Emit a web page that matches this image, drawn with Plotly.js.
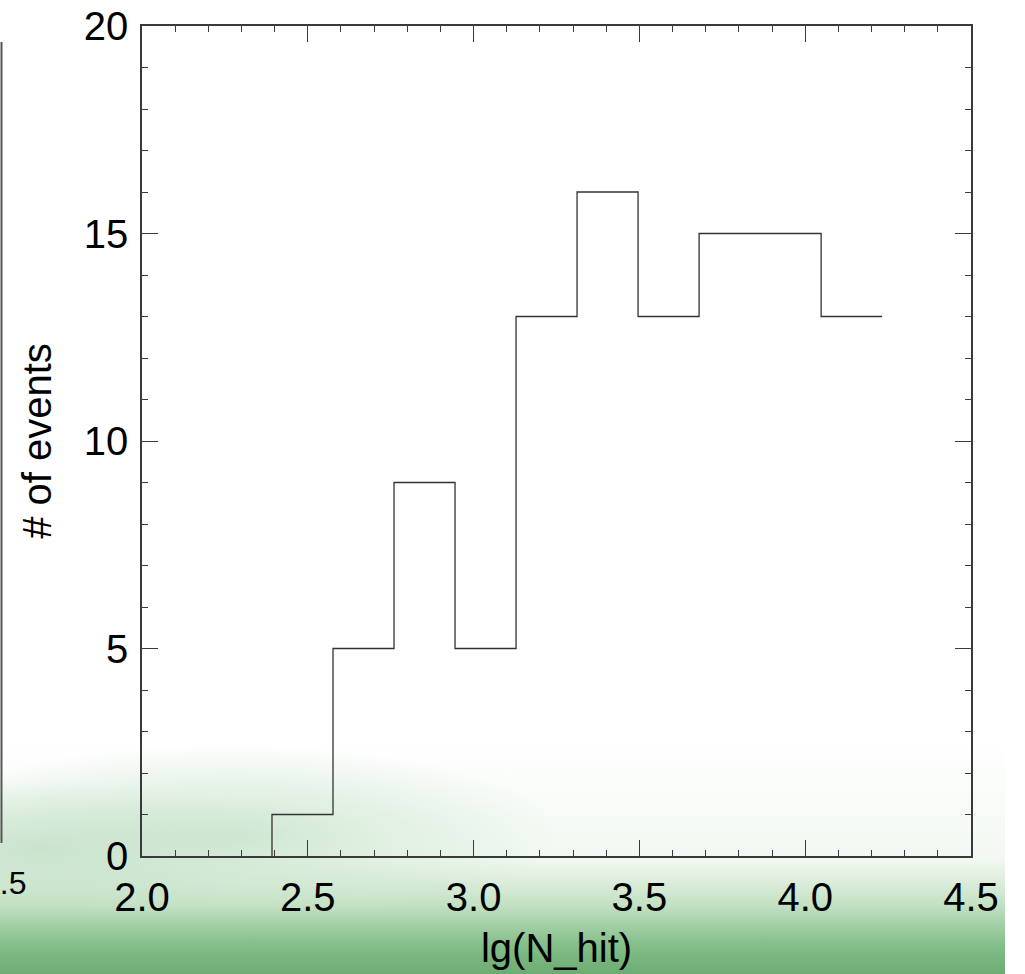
<!DOCTYPE html>
<html>
<head>
<meta charset="utf-8">
<script src="https://cdn.plot.ly/plotly-3.0.1.min.js"></script>
<style>
  html, body { margin: 0; padding: 0; background: #ffffff; }
  #wrap { position: relative; width: 1025px; height: 974px; overflow: hidden; }
  #bg {
    position: absolute; left: 0; top: 740px; width: 1005px; height: 234px;
    background:
      radial-gradient(ellipse 330px 90px at 230px 95px, rgba(200,228,204,0.85), rgba(200,228,204,0) 100%),
      radial-gradient(ellipse 260px 70px at 40px 110px, rgba(190,222,195,0.8), rgba(190,222,195,0) 100%),
      linear-gradient(to bottom, rgba(255,255,255,0) 0px, rgba(215,236,215,0.35) 120px, rgba(175,215,175,0.75) 165px, rgba(125,187,130,0.95) 205px, rgba(108,172,114,1) 234px);
  }
  #chart { position: absolute; left: 0; top: 0; width: 1025px; height: 974px; }
</style>
</head>
<body>
<div id="wrap">
  <div id="bg"></div>
  <div id="chart"></div>
</div>
<script>
// Histogram of lg(N_hit): bin edges and counts per bin
const binEdges = [2.392, 2.576, 2.760, 2.944, 3.128, 3.312, 3.496, 3.680, 3.864, 4.048, 4.232];
const counts   = [1, 5, 9, 5, 13, 16, 13, 15, 15, 13];

const xTickVals = [2.0, 2.5, 3.0, 3.5, 4.0, 4.5];
const xTickText = ['2.0', '2.5', '3.0', '3.5', '4.0', '4.5'];
const yTickVals = [0, 5, 10, 15, 20];
const yTickText = ['0', '5', '10', '15', '20'];

// step outline: rise from zero at the first edge, hold each count over its bin
const stepX = [binEdges[0]].concat(binEdges);
const stepY = [0].concat(counts, [counts[counts.length - 1]]);

const FONT = 'Liberation Sans, Arial, Helvetica, sans-serif';
const AX = '#3a3a3a';

const trace = {
  x: stepX,
  y: stepY,
  type: 'scatter',
  mode: 'lines',
  line: { shape: 'hv', color: '#333333', width: 1.3 },
  hoverinfo: 'x+y',
  showlegend: false
};

const layout = {
  width: 1025,
  height: 974,
  margin: { l: 142, r: 54, t: 26, b: 118, pad: 0 },
  paper_bgcolor: 'rgba(0,0,0,0)',
  plot_bgcolor: 'rgba(0,0,0,0)',
  font: { family: FONT, size: 40, color: '#000' },
  showlegend: false,
  xaxis: {
    range: [2.0, 4.5],
    tickmode: 'array',
    tickvals: xTickVals,
    ticktext: xTickText,
    ticks: 'inside',
    ticklen: 16,
    tickwidth: 1.3,
    tickcolor: AX,
    minor: { dtick: 0.1, tick0: 2.0, ticks: 'inside', ticklen: 6, tickwidth: 1.3, tickcolor: AX, showgrid: false },
    showline: true,
    linecolor: AX,
    linewidth: 1.5,
    mirror: 'allticks',
    showgrid: false,
    zeroline: false,
    tickfont: { family: FONT, size: 40, color: '#000' },
    ticklabelstandoff: 5,
    automargin: false,
    title: { text: 'lg(N_hit)', font: { family: FONT, size: 40, color: '#000' }, standoff: 16 }
  },
  yaxis: {
    range: [0, 20],
    tickmode: 'array',
    tickvals: yTickVals,
    ticktext: yTickText,
    ticks: 'inside',
    ticklen: 16,
    tickwidth: 1.3,
    tickcolor: AX,
    minor: { dtick: 1, tick0: 0, ticks: 'inside', ticklen: 6, tickwidth: 1.3, tickcolor: AX, showgrid: false },
    showline: true,
    linecolor: AX,
    linewidth: 1.5,
    mirror: 'allticks',
    showgrid: false,
    zeroline: false,
    tickfont: { family: FONT, size: 40, color: '#000' },
    ticklabelstandoff: 4,
    automargin: false,
    title: { text: '# of events', font: { family: FONT, size: 40, color: '#000' }, standoff: 20 }
  },
  shapes: [
    // edge of the neighbouring panel, cut off at the left border
    { type: 'line', xref: 'paper', yref: 'paper', x0: -0.1695, x1: -0.1695, y0: 0.0157, y1: 0.9807,
      line: { color: '#555', width: 2 } }
  ],
  annotations: [
    { xref: 'paper', yref: 'paper', x: -0.1375, y: -0.032, xanchor: 'right', yanchor: 'middle',
      text: '4.5', showarrow: false, font: { family: FONT, size: 32, color: '#000' } }
  ]
};

Plotly.newPlot('chart', [trace], layout, { displayModeBar: false });
</script>
</body>
</html>
